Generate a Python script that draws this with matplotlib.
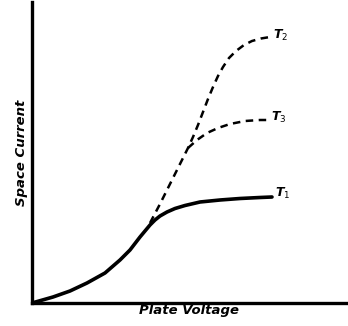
import matplotlib
matplotlib.use("Agg")
import matplotlib.pyplot as plt

# Curves (x = plate voltage, y = space current), arbitrary units
t1_x = [0, 21, 38, 55, 73, 88, 98, 108, 113, 118, 123, 128, 135, 143, 153, 168, 188, 208, 228, 240]
t1_y = [0, 6, 12, 20, 30, 43, 53, 66, 72, 78, 83, 87, 91, 94.5, 97.5, 101, 103, 104.5, 105.5, 106]

t2_x = [118, 128, 138, 148, 156, 161, 166, 171, 176, 181, 186, 191, 197, 204, 212, 220, 229, 238]
t2_y = [80, 99, 119, 139, 155, 166, 178, 191, 204, 216, 227, 236, 245, 252, 258, 262, 264.5, 266]

t3_x = [156, 165, 175, 186, 198, 213, 228, 236]
t3_y = [155, 163, 170, 175, 179, 182, 183, 183]

labels = ["T$_1$", "T$_2$", "T$_3$"]
xlabel = "Plate Voltage"
ylabel = "Space Current"

fig = plt.figure(figsize=(3.48, 3.26), dpi=100)
ax = fig.add_axes([32 / 348, 23 / 326, 314 / 348, 301 / 326])
ax.set_xlim(0, 314)
ax.set_ylim(0, 301)
for s in ["top", "right"]:
    ax.spines[s].set_visible(False)
for s in ["left", "bottom"]:
    ax.spines[s].set_linewidth(2.4)
ax.set_xticks([])
ax.set_yticks([])

ax.plot(t1_x, t1_y, color="black", lw=2.6, solid_capstyle="round", solid_joinstyle="round")
ax.plot(t2_x, t2_y, color="black", lw=1.8, ls=(0, (3, 2.2)))
ax.plot(t3_x, t3_y, color="black", lw=1.8, ls=(0, (3, 2.2)))

fk = dict(fontweight="bold", fontstyle="italic", color="black", family="DejaVu Sans")
ax.text(t1_x[-1] + 3, t1_y[-1] + 4, labels[0], fontsize=9, ha="left", va="center", **fk)
ax.text(t2_x[-1] + 3, t2_y[-1] + 2, labels[1], fontsize=9, ha="left", va="center", **fk)
ax.text(t3_x[-1] + 3, t3_y[-1] + 3, labels[2], fontsize=9, ha="left", va="center", **fk)

ax.set_xlabel(xlabel, fontsize=9.5, labelpad=1, **fk)
ax.set_ylabel(ylabel, fontsize=9.5, labelpad=3, **fk)

fig.savefig("out.png", dpi=100, facecolor="white")
